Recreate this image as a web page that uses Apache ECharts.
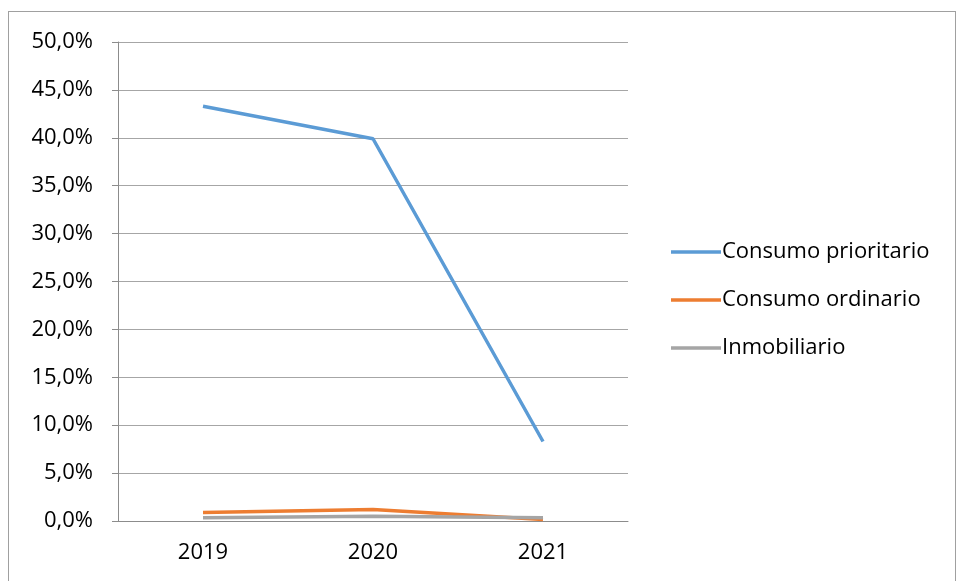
<!DOCTYPE html>
<html>
<head>
<meta charset="utf-8">
<script src="https://cdn.jsdelivr.net/npm/echarts@6/dist/echarts.min.js"></script>
<style>
html, body { margin: 0; padding: 0; background: #fff; }
#box { position: absolute; left: 8px; top: 11px; width: 946px; height: 580px; border: 1px solid #a0a0a0; }
#chart { width: 946px; height: 580px; }
</style>
</head>
<body>
<div id="box"><div id="chart"></div></div>
<script>
var years = ["2019", "2020", "2021"];
var prioritario = [43.3, 39.9, 8.3];
var ordinario = [0.9, 1.2, 0.15];
var inmobiliario = [0.35, 0.5, 0.35];
var names = ["Consumo prioritario", "Consumo ordinario", "Inmobiliario"];
var colors = ["#5B9BD5", "#ED7D31", "#A5A5A5"];

var font = "'Open Sans', 'Noto Sans', sans-serif";

function mkSeries(name, vals, col) {
	return {
		name: name,
		type: 'line',
		data: vals,
		symbol: 'none',
		lineStyle: { color: col, width: 3.5 },
		itemStyle: { color: col },
		z: name == names[0] ? 3 : 2
	};
}

var myChart = echarts.init(document.getElementById('chart'));
myChart.setOption({
	animation: false,
	color: colors,
	grid: { left: 109, top: 30, width: 510, height: 479 },
	legend: {
		orient: 'vertical',
		left: 657,
		top: 224,
		itemWidth: 50,
		itemHeight: 3.5,
		itemGap: 26,
		icon: 'rect',
		textStyle: { fontFamily: font, fontSize: 22, color: '#000', padding: [0, 0, 0, -4] },
		data: names
	},
	xAxis: {
		type: 'category',
		data: years,
		axisLine: { lineStyle: { color: '#8c8c8c', width: 1 } },
		axisTick: { length: 7, lineStyle: { color: '#8c8c8c' } },
		axisLabel: { margin: 21, fontFamily: font, fontSize: 22, color: '#000' }
	},
	yAxis: {
		type: 'value',
		min: 0,
		max: 50,
		interval: 5,
		axisLine: { show: true, lineStyle: { color: '#8c8c8c', width: 1 } },
		axisTick: { show: true, length: 6, lineStyle: { color: '#8c8c8c' } },
		splitLine: { lineStyle: { color: '#a6a6a6', width: 1 } },
		axisLabel: {
			margin: 25,
			fontFamily: font,
			fontSize: 22,
			color: '#000',
			formatter: function (v) { return v.toFixed(1).replace('.', ',') + '%'; }
		}
	},
	series: [
		mkSeries(names[0], prioritario, colors[0]),
		mkSeries(names[1], ordinario, colors[1]),
		mkSeries(names[2], inmobiliario, colors[2])
	]
});
</script>
</body>
</html>
